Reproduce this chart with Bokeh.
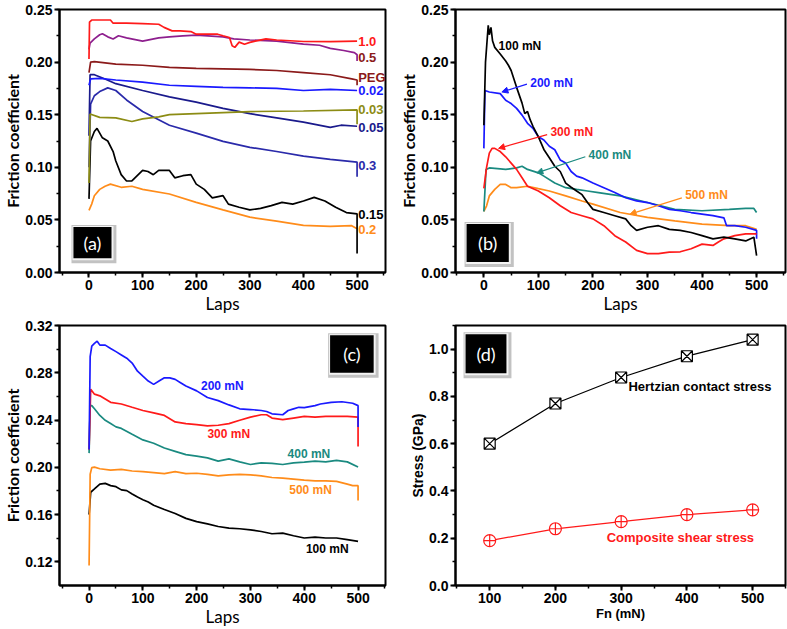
from bokeh.plotting import figure
from bokeh.layouts import gridplot
from bokeh.models import SingleIntervalTicker, NumeralTickFormatter, Arrow, NormalHead, Range1d
from bokeh.core.properties import value
from bokeh.embed import file_html
from bokeh.resources import INLINE

# ---------------- data ----------------
# Panel (a): friction coefficient vs laps for different concentrations
a_labels = ["1.0", "0.5", "PEG", "0.02", "0.03", "0.05", "0.3", "0.15", "0.2"]
a_laps_10 = [0, 1, 5, 40, 45, 70, 100, 130, 140, 155, 170, 190, 200, 240, 250, 262, 267, 272, 280, 290, 300, 310, 330, 350, 400, 450, 500]
a_mu_10 = [0.203, 0.238, 0.240, 0.240, 0.237, 0.237, 0.2365, 0.236, 0.233, 0.2297, 0.2297, 0.229, 0.2265, 0.2265, 0.225, 0.2234, 0.2155, 0.214, 0.219, 0.217, 0.2187, 0.220, 0.222, 0.221, 0.2196, 0.2195, 0.220]
a_laps_05 = [0, 2, 10, 20, 25, 35, 45, 55, 70, 100, 130, 150, 175, 200, 250, 270, 300, 350, 400, 430, 450, 475, 495, 500, 500]
a_mu_05 = [0.212, 0.218, 0.222, 0.226, 0.227, 0.224, 0.222, 0.225, 0.223, 0.220, 0.223, 0.224, 0.225, 0.2256, 0.224, 0.222, 0.221, 0.220, 0.217, 0.216, 0.213, 0.211, 0.209, 0.207, 0.201]
a_laps_peg = [0, 3, 10, 50, 100, 150, 200, 250, 300, 350, 400, 450, 490, 500, 500]
a_mu_peg = [0.190, 0.200, 0.2005, 0.198, 0.197, 0.195, 0.194, 0.1935, 0.193, 0.192, 0.190, 0.188, 0.184, 0.183, 0.178]
a_laps_002 = [0, 3, 20, 50, 100, 150, 200, 250, 300, 350, 400, 450, 500]
a_mu_002 = [0.178, 0.184, 0.1845, 0.183, 0.181, 0.178, 0.177, 0.176, 0.1755, 0.175, 0.173, 0.174, 0.173]
a_laps_003 = [0, 2, 20, 50, 80, 100, 130, 150, 200, 250, 300, 400, 500, 500]
a_mu_003 = [0.085, 0.1507, 0.1475, 0.147, 0.1435, 0.146, 0.148, 0.150, 0.151, 0.152, 0.153, 0.1535, 0.1545, 0.141]
a_laps_005 = [0, 2, 10, 30, 50, 100, 150, 200, 250, 300, 350, 400, 450, 470, 500]
a_mu_005 = [0.130, 0.188, 0.188, 0.184, 0.1795, 0.173, 0.167, 0.162, 0.156, 0.151, 0.147, 0.143, 0.138, 0.140, 0.139]
a_laps_03 = [0, 3, 10, 20, 35, 50, 70, 100, 150, 200, 250, 300, 350, 400, 450, 500, 500]
a_mu_03 = [0.100, 0.160, 0.168, 0.172, 0.1755, 0.173, 0.164, 0.153, 0.140, 0.1325, 0.1247, 0.119, 0.115, 0.1106, 0.1075, 0.105, 0.091]
a_laps_015 = [0, 3, 10, 15, 25, 35, 45, 50, 60, 70, 80, 90, 100, 110, 120, 130, 150, 160, 175, 190, 200, 215, 230, 250, 260, 280, 300, 320, 340, 360, 380, 400, 420, 440, 460, 480, 500, 500]
a_mu_015 = [0.070, 0.125, 0.134, 0.137, 0.128, 0.125, 0.115, 0.106, 0.093, 0.087, 0.087, 0.092, 0.097, 0.096, 0.093, 0.097, 0.097, 0.090, 0.092, 0.093, 0.084, 0.079, 0.071, 0.073, 0.065, 0.062, 0.0595, 0.061, 0.0636, 0.0667, 0.065, 0.068, 0.0714, 0.068, 0.062, 0.057, 0.0558, 0.018]
a_laps_02 = [0, 5, 10, 20, 30, 40, 60, 80, 100, 150, 200, 250, 300, 350, 400, 450, 490, 500]
a_mu_02 = [0.059, 0.065, 0.073, 0.079, 0.082, 0.084, 0.081, 0.082, 0.079, 0.0746, 0.0667, 0.0595, 0.0526, 0.0489, 0.0448, 0.0439, 0.0445, 0.0417]

# Panel (b): different loads
b_laps_100 = [0, 3, 8, 10, 13, 16, 20, 30, 40, 45, 50, 60, 70, 75, 80, 85, 90, 100, 110, 120, 130, 140, 150, 160, 170, 180, 190, 200, 220, 240, 260, 270, 280, 300, 320, 340, 360, 380, 400, 420, 440, 460, 480, 495, 500]
b_mu_100 = [0.140, 0.200, 0.235, 0.226, 0.233, 0.220, 0.214, 0.2077, 0.201, 0.197, 0.192, 0.176, 0.161, 0.151, 0.153, 0.145, 0.139, 0.129, 0.117, 0.109, 0.101, 0.096, 0.085, 0.081, 0.0775, 0.074, 0.0665, 0.060, 0.057, 0.054, 0.051, 0.0445, 0.040, 0.043, 0.0445, 0.041, 0.040, 0.038, 0.035, 0.032, 0.0336, 0.032, 0.030, 0.0336, 0.016]
b_laps_200 = [0, 2, 10, 30, 40, 50, 60, 70, 80, 90, 100, 110, 120, 130, 140, 150, 160, 170, 180, 200, 220, 240, 260, 280, 300, 320, 340, 360, 380, 400, 420, 440, 445, 460, 480, 500, 500]
b_mu_200 = [0.118, 0.173, 0.1716, 0.170, 0.1637, 0.1606, 0.156, 0.1496, 0.1418, 0.137, 0.129, 0.126, 0.120, 0.1167, 0.107, 0.104, 0.096, 0.0916, 0.090, 0.085, 0.0806, 0.076, 0.071, 0.068, 0.0665, 0.0634, 0.060, 0.0587, 0.057, 0.0555, 0.054, 0.052, 0.0445, 0.0445, 0.043, 0.040, 0.032]
b_laps_300 = [0, 5, 10, 15, 20, 30, 40, 50, 60, 70, 80, 100, 120, 140, 160, 180, 200, 220, 240, 260, 280, 300, 320, 340, 360, 380, 400, 420, 430, 440, 460, 480, 500]
b_mu_300 = [0.080, 0.100, 0.1135, 0.118, 0.118, 0.115, 0.110, 0.104, 0.098, 0.090, 0.082, 0.0775, 0.071, 0.0634, 0.057, 0.054, 0.051, 0.0445, 0.035, 0.029, 0.021, 0.018, 0.018, 0.0194, 0.0197, 0.0226, 0.027, 0.0257, 0.029, 0.032, 0.035, 0.0367, 0.0367]
b_laps_400 = [0, 4, 10, 20, 40, 60, 70, 80, 100, 110, 130, 150, 170, 190, 210, 250, 300, 350, 400, 450, 480, 495, 500]
b_mu_400 = [0.058, 0.098, 0.0994, 0.099, 0.098, 0.0994, 0.101, 0.098, 0.0947, 0.0916, 0.085, 0.0806, 0.079, 0.0775, 0.076, 0.0728, 0.0665, 0.060, 0.0587, 0.060, 0.0609, 0.0609, 0.057]
b_laps_500 = [0, 5, 10, 20, 30, 40, 50, 60, 80, 100, 120, 150, 180, 200, 250, 300, 350, 400, 450, 480, 500]
b_mu_500 = [0.058, 0.0634, 0.0728, 0.079, 0.0837, 0.0837, 0.0806, 0.0806, 0.082, 0.0797, 0.0775, 0.0728, 0.068, 0.065, 0.057, 0.0524, 0.049, 0.046, 0.0445, 0.0445, 0.041]

# Panel (c): different loads (second system)
c_laps_200 = [0, 2, 5, 10, 15, 20, 30, 40, 50, 60, 70, 80, 90, 100, 110, 120, 130, 140, 150, 160, 170, 180, 200, 220, 240, 260, 280, 300, 320, 330, 340, 360, 370, 380, 390, 400, 420, 430, 450, 470, 490, 500, 500]
c_mu_200 = [0.215, 0.2937, 0.3026, 0.3048, 0.3067, 0.3034, 0.3034, 0.3006, 0.2979, 0.2951, 0.2923, 0.2882, 0.2813, 0.2771, 0.273, 0.2702, 0.273, 0.2757, 0.2757, 0.2744, 0.2716, 0.2688, 0.2647, 0.2591, 0.2564, 0.2528, 0.2495, 0.2489, 0.2481, 0.2472, 0.2453, 0.2445, 0.2481, 0.2495, 0.2508, 0.2505, 0.2522, 0.2536, 0.255, 0.2555, 0.2542, 0.2522, 0.2342]
c_laps_300 = [0, 3, 10, 20, 30, 40, 60, 80, 100, 120, 140, 160, 180, 200, 220, 240, 260, 280, 300, 320, 330, 340, 360, 380, 400, 420, 440, 460, 480, 500, 500]
c_mu_300 = [0.215, 0.266, 0.2619, 0.2605, 0.2578, 0.255, 0.2536, 0.2508, 0.2481, 0.2461, 0.2439, 0.2384, 0.237, 0.2362, 0.2351, 0.2356, 0.237, 0.2398, 0.2425, 0.2445, 0.2445, 0.2417, 0.2403, 0.2417, 0.2431, 0.2425, 0.2431, 0.2431, 0.2431, 0.2425, 0.2177]
c_laps_400 = [0, 2, 5, 10, 20, 30, 40, 50, 60, 80, 100, 120, 140, 160, 180, 200, 220, 240, 260, 280, 300, 320, 340, 360, 380, 400, 420, 440, 460, 480, 500]
c_mu_400 = [0.212, 0.2522, 0.2522, 0.2495, 0.2439, 0.2398, 0.237, 0.2342, 0.2329, 0.2279, 0.2232, 0.2204, 0.2163, 0.2135, 0.2107, 0.2094, 0.208, 0.2052, 0.2071, 0.2046, 0.2024, 0.2038, 0.2033, 0.2024, 0.2038, 0.2044, 0.2052, 0.2046, 0.2058, 0.2046, 0.2002]
c_laps_500 = [0, 2, 5, 10, 20, 40, 60, 80, 100, 120, 140, 160, 180, 200, 220, 240, 260, 280, 300, 320, 340, 360, 380, 400, 420, 440, 460, 480, 490, 500, 500]
c_mu_500 = [0.117, 0.1941, 0.1997, 0.2002, 0.1988, 0.1977, 0.1983, 0.1969, 0.1963, 0.1955, 0.1947, 0.1963, 0.1947, 0.195, 0.1941, 0.1928, 0.1936, 0.1941, 0.1936, 0.1928, 0.1914, 0.1908, 0.190, 0.1892, 0.1886, 0.1886, 0.1881, 0.1858, 0.1845, 0.1845, 0.172]
c_laps_100 = [0, 3, 10, 20, 30, 40, 50, 60, 70, 80, 90, 100, 110, 120, 140, 160, 180, 200, 220, 240, 260, 280, 300, 320, 340, 360, 380, 400, 420, 440, 460, 480, 500]
c_mu_100 = [0.160, 0.1789, 0.1817, 0.1858, 0.1864, 0.1845, 0.1836, 0.1809, 0.1803, 0.1775, 0.1748, 0.1726, 0.1706, 0.1679, 0.1643, 0.1609, 0.1568, 0.154, 0.1521, 0.1499, 0.1485, 0.148, 0.1471, 0.1457, 0.1438, 0.1443, 0.1421, 0.1402, 0.141, 0.1402, 0.1402, 0.1388, 0.1374]

# Panel (d): stress vs normal load
d_fn = [100, 200, 300, 400, 500]
d_hertz = [0.60, 0.77, 0.88, 0.97, 1.04]
d_shear = [0.19, 0.24, 0.27, 0.30, 0.32]

# ---------------- styling helpers ----------------
RED = "#ff1a1a"
PURPLE = "#8e1f8e"
MAROON = "#8b1a1a"
BLUE = "#1a1aff"
OLIVE = "#8c8c14"
NAVY = "#1a1a8c"
MIDBLUE = "#2a2aaa"
BLACK = "#000000"
ORANGE = "#ff8c1a"
TEAL = "#1a8a80"

TICK_FONT = "Liberation Sans"
LABEL_FONT = "Lato"


def make_fig(w, h, xr, yr, bl, br, bt, bb, xint, yint, yfmt, xlabel, ylabel, label_font, label_style, label_size, ylabel_font, ylabel_style, ylabel_size):
    p = figure(width=w, height=h, x_range=Range1d(*xr), y_range=Range1d(*yr),
               output_backend="svg", toolbar_location=None,
               min_border_left=bl, min_border_right=br, min_border_top=bt, min_border_bottom=bb)
    p.xgrid.visible = False
    p.ygrid.visible = False
    p.outline_line_color = "black"
    p.outline_line_width = 2
    p.outline_line_alpha = 1
    p.background_fill_color = "white"
    p.border_fill_color = "white"
    p.xaxis.ticker = SingleIntervalTicker(interval=xint, num_minor_ticks=2)
    p.yaxis.ticker = SingleIntervalTicker(interval=yint, num_minor_ticks=2)
    p.yaxis.formatter = NumeralTickFormatter(format=yfmt)
    p.xaxis.formatter = NumeralTickFormatter(format="0")
    for ax in (p.xaxis[0], p.yaxis[0]):
        ax.axis_line_width = 2
        ax.major_tick_line_width = 2
        ax.minor_tick_line_width = 1.5
        ax.major_tick_out = 5
        ax.major_tick_in = 0
        ax.minor_tick_out = 3
        ax.minor_tick_in = 0
        ax.major_label_text_font = TICK_FONT
        ax.major_label_text_font_style = "bold"
        ax.major_label_text_font_size = "14px"
        ax.major_label_text_color = "black"
        ax.major_label_standoff = 2
        ax.axis_label_text_color = "black"
        ax.axis_label_standoff = 0
    p.xaxis.axis_label = xlabel
    p.yaxis.axis_label = ylabel
    p.xaxis.axis_label_text_font = label_font
    p.xaxis.axis_label_text_font_style = label_style
    p.xaxis.axis_label_text_font_size = label_size
    p.yaxis.axis_label_text_font = ylabel_font
    p.yaxis.axis_label_text_font_style = ylabel_style
    p.yaxis.axis_label_text_font_size = ylabel_size
    return p


def tag(p, x0, x1, y0, y1, txt, w, h, bl, br, bt, bb, xr, yr):
    sx = (xr[1] - xr[0]) / (w - bl - br)
    sy = (yr[1] - yr[0]) / (h - bt - bb)
    p.quad(left=[x0 - 2 * sx], right=[x1 + 5 * sx], bottom=[y0 - 5 * sy], top=[y1 + 2 * sy],
           fill_color="#c2c2c2", line_color=None)
    p.quad(left=[x0 - 1 * sx], right=[x1 + 2 * sx], bottom=[y0 - 2 * sy], top=[y1 + 1 * sy],
           fill_color="#f4f4f4", line_color=None)
    p.quad(left=[x0], right=[x1], bottom=[y0], top=[y1], fill_color="black", line_color=None)
    p.text(x=[(x0 + x1) / 2], y=[(y0 + y1) / 2], text=[txt], text_color="white",
           text_font=value("Lato"), text_font_size="18px", text_align="center", text_baseline="middle")


def lab(p, x, y, txt, color, size, align="left"):
    p.text(x=[x], y=[y], text=[txt], text_color=color, text_font=value(TICK_FONT),
           text_font_style="bold", text_font_size=size, text_align=align, text_baseline="middle")


LW = 1.7

# ---------------- panel (a) ----------------
WA, HA = 395, 316
BA = dict(bl=53, br=8, bt=9, bb=42)
XRA, YRA = (-55, 553), (0, 0.25)
pa = make_fig(WA, HA, XRA, YRA, BA["bl"], BA["br"], BA["bt"], BA["bb"], 100, 0.05, "0.00",
              "Laps", "Friction coefficient", LABEL_FONT, "normal", "17px", LABEL_FONT, "bold", "16px")
a_series = [
    (a_laps_02, a_mu_02, ORANGE), (a_laps_015, a_mu_015, BLACK), (a_laps_03, a_mu_03, MIDBLUE),
    (a_laps_005, a_mu_005, NAVY), (a_laps_003, a_mu_003, OLIVE), (a_laps_002, a_mu_002, BLUE),
    (a_laps_peg, a_mu_peg, MAROON), (a_laps_05, a_mu_05, PURPLE), (a_laps_10, a_mu_10, RED),
]
for xs, ys, c in a_series:
    pa.line(xs, ys, line_color=c, line_width=LW)
a_lab_y = [0.220, 0.2046, 0.185, 0.1726, 0.1545, 0.138, 0.1018, 0.0551, 0.041]
a_lab_c = [RED, MAROON, MAROON, BLUE, OLIVE, NAVY, MIDBLUE, BLACK, ORANGE]
for t, yy, c in zip(a_labels, a_lab_y, a_lab_c):
    lab(pa, 502, yy, t, c, "13px")
tag(pa, -29, 42, 0.0135, 0.0432, "(a)", WA, HA, BA["bl"], BA["br"], BA["bt"], BA["bb"], XRA, YRA)

# ---------------- panel (b) ----------------
WB, HB = 392, 316
BB = dict(bl=60, br=2, bt=9, bb=42)
XRB, YRB = (-52, 553), (0, 0.25)
pb = make_fig(WB, HB, XRB, YRB, BB["bl"], BB["br"], BB["bt"], BB["bb"], 100, 0.05, "0.00",
              "Laps", "Friction coefficient", LABEL_FONT, "normal", "17px", LABEL_FONT, "bold", "16px")
for xs, ys, c in [(b_laps_500, b_mu_500, ORANGE), (b_laps_400, b_mu_400, TEAL), (b_laps_200, b_mu_200, BLUE),
                  (b_laps_300, b_mu_300, RED), (b_laps_100, b_mu_100, BLACK)]:
    pb.line(xs, ys, line_color=c, line_width=LW)
lab(pb, 27, 0.2155, "100 mN", BLACK, "12px")
lab(pb, 85, 0.180, "200 mN", BLUE, "12px")
lab(pb, 122, 0.134, "300 mN", RED, "12px")
lab(pb, 192, 0.112, "400 mN", TEAL, "12px")
lab(pb, 369, 0.0737, "500 mN", ORANGE, "12px")
for (xs, ys, xe, ye, c) in [(79, 0.179, 33, 0.1716, BLUE), (116, 0.131, 27, 0.118, RED),
                             (186, 0.110, 97, 0.0947, TEAL), (363, 0.071, 268, 0.0555, ORANGE)]:
    pb.add_layout(Arrow(end=NormalHead(size=6, fill_color=c, line_color=c, line_width=1),
                        x_start=xs, y_start=ys, x_end=xe, y_end=ye, line_color=c, line_width=1.2))
tag(pb, -31.7, 45.7, 0.010, 0.046, "(b)", WB, HB, BB["bl"], BB["br"], BB["bt"], BB["bb"], XRB, YRB)

# ---------------- panel (c) ----------------
WC, HC = 395, 313
BC = dict(bl=53, br=10, bt=9, bb=42)
XRC, YRC = (-55, 551), (0.10, 0.32)
pc = make_fig(WC, HC, XRC, YRC, BC["bl"], BC["br"], BC["bt"], BC["bb"], 100, 0.04, "0.00",
              "Laps", "Friction coefficient", LABEL_FONT, "normal", "17px", LABEL_FONT, "bold", "16px")
for xs, ys, c in [(c_laps_100, c_mu_100, BLACK), (c_laps_500, c_mu_500, ORANGE), (c_laps_400, c_mu_400, TEAL),
                  (c_laps_300, c_mu_300, RED), (c_laps_200, c_mu_200, BLUE)]:
    pc.line(xs, ys, line_color=c, line_width=LW)
lab(pc, 208, 0.2688, "200 mN", BLUE, "12px")
lab(pc, 220, 0.2279, "300 mN", RED, "12px")
lab(pc, 369, 0.2113, "400 mN", TEAL, "12px")
lab(pc, 372, 0.1809, "500 mN", ORANGE, "12px")
lab(pc, 403, 0.131, "100 mN", BLACK, "12px")
tag(pc, 448, 529, 0.280, 0.3117, "(c)", WC, HC, BC["bl"], BC["br"], BC["bt"], BC["bb"], XRC, YRC)

# ---------------- panel (d) ----------------
WD, HD = 392, 313
BD = dict(bl=60, br=2, bt=9, bb=42)
XRD, YRD = (48, 550), (0, 1.1)
pd_ = make_fig(WD, HD, XRD, YRD, BD["bl"], BD["br"], BD["bt"], BD["bb"], 100, 0.2, "0.0",
               "Fn (mN)", "Stress (GPa)", TICK_FONT, "bold", "13px", TICK_FONT, "bold", "14px")
pd_.line(d_fn, d_hertz, line_color=BLACK, line_width=1.3)
pd_.scatter(d_fn, d_hertz, marker="square_x", size=11, line_color=BLACK, fill_color="white", line_width=1.2)
pd_.line(d_fn, d_shear, line_color=RED, line_width=1.3)
pd_.scatter(d_fn, d_shear, marker="circle_cross", size=12, line_color=RED, fill_color="white", line_width=1.2)
lab(pd_, 311, 0.843, "Hertzian contact stress", BLACK, "13px")
lab(pd_, 278, 0.202, "Composite shear stress", RED, "13px")
tag(pd_, 63.3, 125.5, 0.898, 1.063, "(d)", WD, HD, BD["bl"], BD["br"], BD["bt"], BD["bb"], XRD, YRD)

grid = gridplot([[pa, pb], [pc, pd_]], toolbar_location=None)
open("out.html", "w").write(file_html(grid, INLINE))
